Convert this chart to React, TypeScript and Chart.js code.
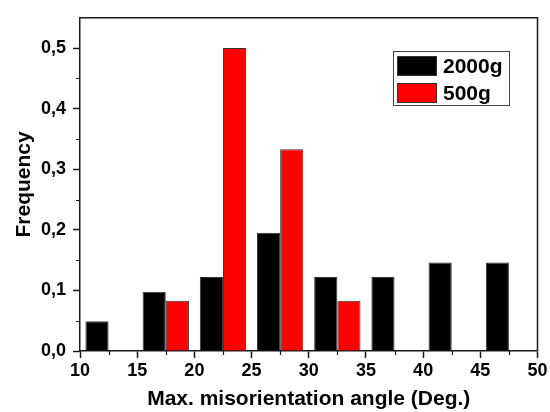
import React, { useEffect, useRef } from 'react';
import { Chart, registerables } from 'chart.js';

Chart.register(...registerables);

// ---- data ----
const binStarts = ['10', '15', '20', '25', '30', '35', '40', '45'];
const freq2000 = [0.049, 0.098, 0.122, 0.195, 0.122, 0.122, 0.146, 0.146];
const freq500 = [null, 0.083, 0.5, 0.333, 0.083, null, null, null];
const seriesNames = ['2000g', '500g'];
const seriesColors = ['#000000', '#ff0000'];
const xMin = 10;
const xMax = 50;
const xStep = 5;
const xMinorTicks = [12.5, 17.5, 22.5, 27.5, 32.5, 37.5, 42.5, 47.5];
const yMin = 0;
const yMax = 0.55;
const yStep = 0.1;
const yMinorTicks = [0.05, 0.15, 0.25, 0.35, 0.45];
const xTitle = 'Max. misorientation angle (Deg.)';
const yTitle = 'Frequency';

const FONT = "'Liberation Sans', Arial, sans-serif";
const AXIS_COLOR = '#1a1a1a';

const framePlugin = {
  id: 'frameAndExtras',
  afterDraw(chart: any) {
    const { ctx, chartArea, scales } = chart;
    const { left, right, top, bottom } = chartArea;
    ctx.save();
    ctx.strokeStyle = AXIS_COLOR;
    ctx.lineWidth = 1.5;
    // top & right frame
    ctx.beginPath();
    ctx.moveTo(left, top);
    ctx.lineTo(right, top);
    ctx.lineTo(right, bottom);
    ctx.stroke();
    // minor ticks
    ctx.lineWidth = 1.2;
    ctx.beginPath();
    for (const v of xMinorTicks) {
      const px = Math.round(scales.x2.getPixelForValue(v)) + 0.5;
      ctx.moveTo(px, bottom);
      ctx.lineTo(px, bottom + 4);
    }
    for (const v of yMinorTicks) {
      const py = Math.round(scales.y.getPixelForValue(v)) + 0.5;
      ctx.moveTo(left - 4, py);
      ctx.lineTo(left, py);
    }
    ctx.stroke();
    // legend
    const bx = 393, by = 51, bw = 116, bh = 54;
    ctx.fillStyle = '#ffffff';
    ctx.fillRect(bx, by, bw, bh);
    ctx.strokeStyle = '#444';
    ctx.lineWidth = 1;
    ctx.strokeRect(bx + 0.5, by + 0.5, bw, bh);
    ctx.font = `bold 21px ${FONT}`;
    ctx.textBaseline = 'middle';
    ctx.textAlign = 'left';
    const rows = [66, 93];
    chart.data.datasets.forEach((ds: any, i: number) => {
      const cy = rows[i];
      ctx.fillStyle = ds.backgroundColor;
      ctx.fillRect(397, cy - 10, 39, 20);
      ctx.strokeStyle = '#333';
      ctx.strokeRect(397.5, cy - 9.5, 39, 19);
      ctx.fillStyle = '#000';
      ctx.fillText(ds.label, 443, cy + 1);
    });
    ctx.restore();
  },
};

export default function App() {
  const ref = useRef<HTMLCanvasElement>(null);
  useEffect(() => {
    if (!ref.current) return;
    Chart.defaults.font.family = FONT;
    Chart.defaults.color = '#000';
    const chart = new Chart(ref.current, {
      type: 'bar',
      data: {
        labels: binStarts,
        datasets: [
          {
            label: seriesNames[0],
            data: freq2000,
            backgroundColor: seriesColors[0],
            borderColor: '#333',
            borderWidth: 1,
            categoryPercentage: 0.81,
            barPercentage: 1,
            xAxisID: 'x',
            yAxisID: 'y',
          },
          {
            label: seriesNames[1],
            data: freq500,
            backgroundColor: seriesColors[1],
            borderColor: '#333',
            borderWidth: 1,
            categoryPercentage: 0.81,
            barPercentage: 1,
            xAxisID: 'x',
            yAxisID: 'y',
          },
        ],
      },
      options: {
        animation: false,
        responsive: false,
        devicePixelRatio: 1,
        layout: { padding: { top: 13, right: 12.5, left: 0, bottom: 0 } },
        plugins: {
          legend: { display: false },
          tooltip: { enabled: false },
        },
        scales: {
          x: {
            type: 'category',
            display: false,
            offset: true,
          },
          x2: {
            type: 'linear',
            position: 'bottom',
            min: xMin,
            max: xMax,
            offset: false,
            afterFit: (s: any) => {
              s.height = 61;
            },
            ticks: {
              stepSize: xStep,
              font: { size: 18, weight: 'bold' },
              color: '#000',
              padding: 2,
              maxRotation: 0,
            },
            grid: {
              display: true,
              offset: false,
              drawOnChartArea: false,
              drawTicks: true,
              tickLength: 7,
              color: AXIS_COLOR,
              tickWidth: 1.5,
            },
            border: { display: true, color: AXIS_COLOR, width: 1.5 },
            title: {
              display: true,
              text: xTitle,
              font: { size: 21, weight: 'bold' },
              color: '#000',
              padding: { top: 0, bottom: 0 },
            },
          },
          y: {
            type: 'linear',
            min: yMin,
            max: yMax,
            afterFit: (s: any) => {
              s.width = 80;
            },
            ticks: {
              stepSize: yStep,
              includeBounds: false,
              font: { size: 18, weight: 'bold' },
              color: '#000',
              padding: 7,
              callback: (v: any) => Number(v).toFixed(1).replace('.', ','),
            },
            grid: {
              display: true,
              drawOnChartArea: false,
              drawTicks: true,
              tickLength: 7,
              color: AXIS_COLOR,
              tickWidth: 1.5,
            },
            border: { display: true, color: AXIS_COLOR, width: 1.5 },
            title: {
              display: true,
              text: yTitle,
              font: { size: 21, weight: 'bold' },
              color: '#000',
              padding: { top: 12, bottom: 0 },
            },
          },
        },
      },
      plugins: [framePlugin],
    } as any);
    return () => chart.destroy();
  }, []);
  return (
    <div style={{ position: 'fixed', left: 0, top: 0, width: 550, height: 412, background: '#fff' }}>
      <canvas ref={ref} width={550} height={412} style={{ display: 'block' }} />
    </div>
  );
}
